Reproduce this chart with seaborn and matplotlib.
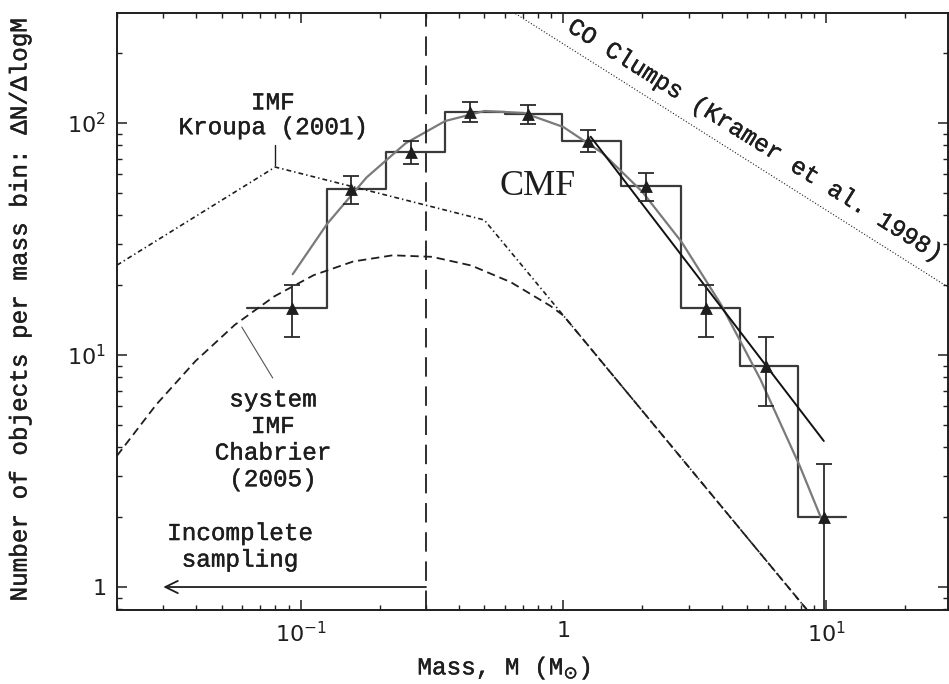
import matplotlib
matplotlib.use("Agg")
import matplotlib.pyplot as plt
import matplotlib.patheffects as pe
import pandas as pd
import seaborn as sns
from matplotlib.ticker import NullFormatter

# ---- data -------------------------------------------------------------
# core mass function histogram: bin edges (M_sun) and dN/dlogM per bin
bin_edges = [0.0624, 0.1256, 0.2104, 0.3556, 0.597, 0.991, 1.663, 2.812, 4.71, 7.834, 11.91]
counts = [16, 52, 75, 112, 109, 84, 53.5, 16, 9, 2]

# mean mass of the cores in each bin and Poisson error bars
point_mass = [0.093, 0.156, 0.264, 0.44, 0.736, 1.245, 2.07, 3.50, 5.92, 9.8]
point_err = [4.0, 7.2, 8.7, 10.6, 10.4, 9.2, 7.3, 4.0, 3.0, 1.4]

# log-normal fit to the CMF
fit_mass = [0.0933, 0.126, 0.178, 0.251, 0.355, 0.501, 0.708, 1.0,
            1.413, 1.995, 2.818, 3.981, 5.623, 7.943, 9.772]
fit_N = [22.3, 36.7, 58.2, 81.8, 102, 112.7, 110.5, 96.1,
         74.0, 50.6, 30.7, 16.5, 7.85, 3.32, 1.87]

# power-law fit to the high-mass end
pl_mass = [1.27, 9.8]
pl_N = [87.3, 4.26]

# Kroupa (2001) IMF
kroupa_mass = [0.02, 0.08, 0.5, 10]
kroupa_N = [24.4, 64.6, 38.2, 0.634]

# Chabrier (2005) system IMF
chab_mass = [0.02, 0.0282, 0.0398, 0.0562, 0.0794, 0.1122, 0.1585, 0.2239,
             0.3162, 0.4467, 0.631, 0.891, 1.0, 10]
chab_N = [3.68, 6.11, 9.42, 13.5, 17.9, 22.1, 25.3, 26.9,
          26.5, 24.3, 20.6, 16.3, 14.8, 0.634]

# CO clump mass spectrum (Kramer et al. 1998)
co_mass = [0.6, 30]
co_N = [316, 19.2]

# completeness limit
sampling_limit = 0.3
arrow_end = 0.03

x_ticks = [0.1, 1, 10]
x_ticklabels = [r"$10^{-1}$", r"$1$", r"$10^{1}$"]
y_ticks = [1, 10, 100]
y_ticklabels = [r"$1$", r"$10^{1}$", r"$10^{2}$"]

# ---- style ------------------------------------------------------------
sns.set_theme(style="ticks")
plt.rcParams["font.family"] = ["Liberation Mono", "DejaVu Sans"]
plt.rcParams["mathtext.fontset"] = "dejavusans"
plt.rcParams["lines.scale_dashes"] = False
ink = "#1e1e1e"
semibold = [pe.withStroke(linewidth=0.3, foreground=ink)]

fig = plt.figure(figsize=(9.49, 6.84), dpi=100)
ax = fig.add_axes([117 / 949, 1 - 610 / 684, 831 / 949, 597 / 684])
ax.set_xscale("log")
ax.set_yscale("log")

# histogram (open-ended steps)
hist_df = pd.DataFrame({"mass": bin_edges, "N": counts + [counts[-1]]})
sns.lineplot(data=hist_df, x="mass", y="N", drawstyle="steps-post",
             color="#3a3a3a", lw=1.6, estimator=None, ax=ax)

# IMFs
sns.lineplot(x=chab_mass, y=chab_N, color=ink, lw=1.3,
             linestyle=(0, (6, 3.5)), estimator=None, ax=ax)
sns.lineplot(x=kroupa_mass, y=kroupa_N, color=ink, lw=1.2,
             linestyle=(0, (3.5, 2.2, 1.0, 2.2)), estimator=None, ax=ax)

# CO clumps
sns.lineplot(x=co_mass, y=co_N, color=ink, lw=0.8,
             linestyle=(0, (0.8, 1.4)), estimator=None, ax=ax)

# fits
sns.lineplot(x=fit_mass, y=fit_N, color="#7a7a7a", lw=1.6,
             estimator=None, ax=ax)
sns.lineplot(x=pl_mass, y=pl_N, color="#111111", lw=1.4,
             estimator=None, ax=ax)

# data points with error bars
ax.errorbar(point_mass, counts, yerr=point_err, fmt="none", ecolor="#2a2a2a",
            elinewidth=1.3, capsize=5.5, capthick=1.3, zorder=4)
sns.scatterplot(x=point_mass, y=counts, marker="^", s=85, color="#1e1e1e",
                linewidth=0, zorder=5, ax=ax)

# completeness limit
ax.axvline(sampling_limit, color=ink, lw=1.3, linestyle=(0, (14, 7)))
ax.annotate("", xy=(arrow_end, 1), xytext=(sampling_limit, 1),
            arrowprops=dict(arrowstyle="->,head_length=0.45,head_width=0.22",
                            lw=1.3, color=ink, mutation_scale=20,
                            shrinkA=0, shrinkB=0))

# ---- labels -----------------------------------------------------------
txt = dict(color=ink, fontsize=17.5, ha="center", va="center",
           path_effects=semibold)
ax.text(0.0783, 108, "IMF\nKroupa (2001)", linespacing=1.1, **txt)
ax.plot([0.0796, 0.0796], [66, 80], color=ink, lw=1.0)
ax.text(0.0783, 4.31, "system\nIMF\nChabrier\n(2005)", linespacing=1.2, **txt)
ax.plot([0.0597, 0.0783], [13.2, 7.96], color="#555555", lw=0.8)
ax.text(0.0586, 1.49, "Incomplete\nsampling", linespacing=1.2, **txt)
ax.text(0.796, 53, "CMF", color=ink, fontsize=26, ha="center", va="center",
        family=["Liberation Serif", "DejaVu Serif"])
ax.text(5.32, 84.5, "CO Clumps (Kramer et al. 1998)", rotation=-32,
        rotation_mode="anchor", **txt)

ax.set_xlim(0.02, 29.1)
ax.set_ylim(0.796, 298)
ax.set_xticks(x_ticks, labels=x_ticklabels)
ax.set_yticks(y_ticks, labels=y_ticklabels)
ax.xaxis.set_minor_formatter(NullFormatter())
ax.yaxis.set_minor_formatter(NullFormatter())
ax.tick_params(which="both", direction="in", top=True, right=True, color=ink)
ax.tick_params(which="major", length=7, width=1.1, labelsize=16, pad=8,
               labelcolor=ink)
ax.tick_params(which="minor", length=3.6, width=1.0)
for lab in ax.get_xticklabels() + ax.get_yticklabels():
    lab.set_fontfamily("DejaVu Sans")
for sp in ax.spines.values():
    sp.set_linewidth(1.4)
    sp.set_color(ink)

ax.set_xlabel(r"Mass, M (M$_{\odot}$)", fontsize=17.5, color=ink, va="center",
              path_effects=semibold)
ax.xaxis.set_label_coords((504 - 117) / 831, -(668 - 610) / 597)
ax.set_ylabel("Number of objects per mass bin: ΔN/ΔlogM", fontsize=17.5,
              color=ink, va="center", path_effects=semibold)
ax.yaxis.set_label_coords((20 - 117) / 831, 0.5)

fig.savefig("out.png", dpi=100)
